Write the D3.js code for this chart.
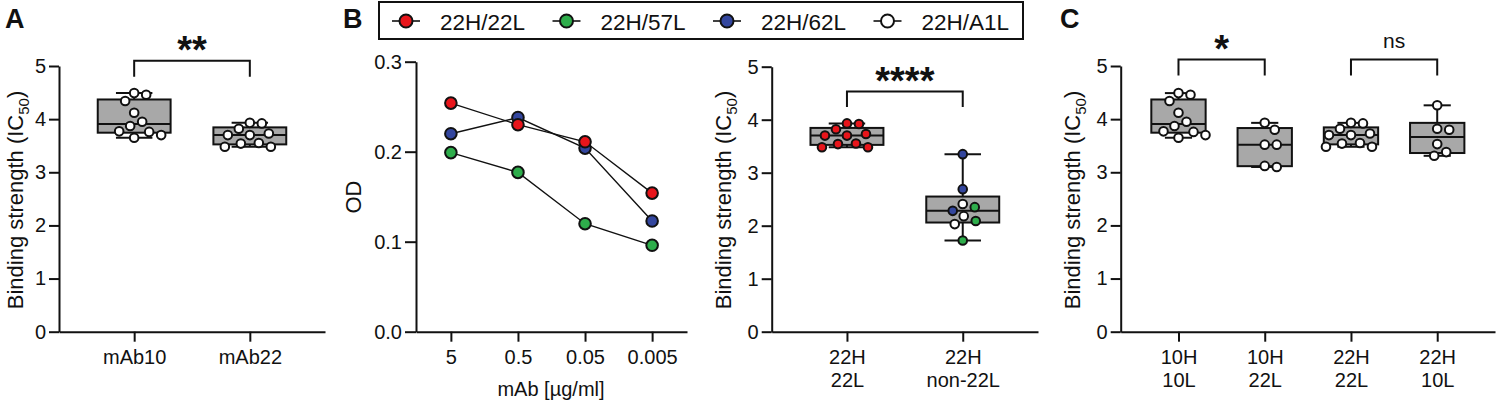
<!DOCTYPE html>
<html>
<head>
<meta charset="utf-8">
<script src="https://cdn.jsdelivr.net/npm/d3@7"></script>
<style>
    body { margin: 0; background: #fff; }
    svg { font-family: Arial, "Liberation Sans", sans-serif; }
    .axis path, .axis line { stroke: #111; stroke-width: 2; }
    .axis text { font-size: 20px; fill: #111; }
</style>
</head>
<body>
<svg id="fig" width="1497" height="407"></svg>
<script>
// ---- data ----
const mAb10 = [4.49, 4.46, 4.34, 4.12, 3.95, 3.87, 3.77, 3.76, 3.70, 3.65]
const mAb22 = [3.93, 3.92, 3.82, 3.73, 3.70, 3.70, 3.55, 3.54, 3.48, 3.48]
const non22L = [3.35, 2.69, 2.41, 2.35, 2.28, 2.18, 2.09, 2.03, 1.72]
const non22LPair = ["62L", "62L", "A1L", "57L", "62L", "A1L", "57L", "A1L", "57L"]
const h10l22 = [3.93, 3.80, 3.52, 3.52, 3.12, 3.10]
const h22l10 = [4.26, 3.82, 3.80, 3.53, 3.38, 3.31]

const concentrations = ["5", "0.5", "0.05", "0.005"]
const od22L = [0.254, 0.230, 0.211, 0.154]
const od57L = [0.199, 0.177, 0.120, 0.096]
const od62L = [0.220, 0.238, 0.204, 0.123]

const legendPairs = ["22H/22L", "22H/57L", "22H/62L", "22H/A1L"]
const pairColor = {"22L": "#e8151b", "57L": "#2ead4b", "62L": "#33469e", "A1L": "#ffffff"}

const svg = d3.select("#fig")

// GraphPad style quartiles, position p*(n+1)
function quart(vals, p) {
    let s = vals.slice().sort(d3.ascending)
    let pos = p * (s.length + 1) - 1
    let lo = Math.max(0, Math.floor(pos)), hi = Math.min(s.length - 1, Math.ceil(pos))
    return s[lo] + (s[hi] - s[lo]) * (pos - lo)
}

// simple beeswarm so the dots don't overlap
function swarm(vals, y, d) {
    let placed = []
    return vals.map(v => {
        let py = y(v), off = 0
        for (let k = 0; k < 400; k++) {
            let c = (k % 2 ? 1 : -1) * Math.ceil(k / 2)
            if (placed.every(p => (p.x - c) ** 2 + (p.y - py) ** 2 >= d * d)) { off = c; break }
        }
        placed.push({x: off, y: py})
        return off
    })
}

function yTitle(g, cx, cy, txt, sub) {
    let t = g.append("text")
        .attr("transform", `translate(${cx},${cy}) rotate(-90)`)
        .attr("text-anchor", "middle")
        .attr("dy", "0.35em")
        .style("font-size", "22px")
        .attr("fill", "#111")
    t.append("tspan").text(txt)
    if (sub) {
        t.append("tspan").text(sub).attr("dy", 6).style("font-size", "15px")
        t.append("tspan").text(")").attr("dy", -6)
    }
}

function panelLabel(x, txt) {
    svg.append("text").attr("x", x).attr("y", 28)
        .style("font-size", "27px").style("font-weight", "bold").attr("fill", "#111")
        .text(txt)
}

// box panel
function boxPanel(cfg) {
    let g = svg.append("g")
    let y = d3.scaleLinear().domain([0, 5]).range([331.7, cfg.yTop])
    let x = d3.scalePoint().domain(cfg.groups.map(d => d.name)).range([cfg.x0, cfg.x1]).padding(cfg.pad)
    let bw = x.step() * 0.63

    g.append("g").attr("class", "axis")
        .attr("transform", `translate(${cfg.x0},0)`)
        .call(d3.axisLeft(y).tickValues([0, 1, 2, 3, 4, 5]).tickFormat(d3.format("d"))
            .tickSize(10).tickSizeOuter(0).tickPadding(3))

    let xa = g.append("g").attr("class", "axis")
        .attr("transform", `translate(0,${y(0)})`)
        .call(d3.axisBottom(x).tickSize(10).tickSizeOuter(0).tickPadding(8).tickFormat(""))
    xa.selectAll(".tick text").attr("dy", null).each(function(d) {
        let t = d3.select(this)
        d.split("\n").forEach((l, i) => t.append("tspan").attr("x", 0).attr("dy", i ? "1.17em" : "0.71em").text(l))
    })

    cfg.groups.forEach(grp => {
        let cx = x(grp.name), v = grp.values
        let q1 = quart(v, 0.25), med = quart(v, 0.5), q3 = quart(v, 0.75)
        let lo = d3.min(v), hi = d3.max(v)
        let gg = g.append("g")
        gg.append("line").attr("x1", cx).attr("x2", cx).attr("y1", y(hi)).attr("y2", y(lo))
            .attr("stroke", "#111").attr("stroke-width", 2)
        ;[lo, hi].forEach(w => gg.append("line")
            .attr("x1", cx - bw / 4).attr("x2", cx + bw / 4).attr("y1", y(w)).attr("y2", y(w))
            .attr("stroke", "#111").attr("stroke-width", 2))
        gg.append("rect").attr("x", cx - bw / 2).attr("width", bw)
            .attr("y", y(q3)).attr("height", y(q1) - y(q3))
            .attr("fill", "#a8a8a8").attr("stroke", "#111").attr("stroke-width", 2)
        gg.append("line").attr("x1", cx - bw / 2).attr("x2", cx + bw / 2).attr("y1", y(med)).attr("y2", y(med))
            .attr("stroke", "#111").attr("stroke-width", 2)

        let offs = swarm(v, y, 12)
        gg.selectAll("circle").data(v).join("circle")
            .attr("cx", (d, i) => cx + offs[i])
            .attr("cy", d => y(d))
            .attr("r", 4.3)
            .attr("fill", (d, i) => grp.colors ? grp.colors[i] : "#fff")
            .attr("stroke", "#111").attr("stroke-width", 2)
    })

    cfg.brackets.forEach(b => {
        let xa1 = x(b.a), xb1 = x(b.b), top = y(b.top), bot = y(b.bot)
        g.append("path")
            .attr("d", `M${xa1},${bot}V${top}H${xb1}V${bot}`)
            .attr("fill", "none").attr("stroke", "#111").attr("stroke-width", 2)
        let star = b.label.includes("*")
        g.append("text").attr("x", (xa1 + xb1) / 2)
            .attr("y", star ? top + 2 : top - 12)
            .attr("text-anchor", "middle")
            .style("font-size", star ? "38px" : "21px")
            .style("font-weight", star ? "bold" : "normal")
            .attr("fill", "#111")
            .text(b.label)
    })

    yTitle(g, cfg.titleX, 200, "Binding strength (IC", "50")
}

// ---- panel A ----
panelLabel(5, "A")
boxPanel({
    x0: 59, x1: 325, pad: 0.65, yTop: 66, titleX: 15,
    groups: [{name: "mAb10", values: mAb10}, {name: "mAb22", values: mAb22}],
    brackets: [{a: "mAb10", b: "mAb22", top: 5.1, bot: 4.8, label: "**"}]
})

// ---- panel B, line chart ----
panelLabel(343, "B")
{
    let g = svg.append("g")
    let y = d3.scaleLinear().domain([0, 0.3]).range([331.7, 61.7])
    let x = d3.scalePoint().domain(concentrations).range([416, 687]).padding(0.52)

    g.append("g").attr("class", "axis")
        .attr("transform", "translate(416,0)")
        .call(d3.axisLeft(y).tickValues([0, 0.1, 0.2, 0.3]).tickFormat(d3.format(".1f"))
            .tickSize(11).tickSizeOuter(0).tickPadding(3))
    g.append("g").attr("class", "axis")
        .attr("transform", `translate(0,${y(0)})`)
        .call(d3.axisBottom(x).tickSize(10).tickSizeOuter(0).tickPadding(8))

    let series = [
        {pair: "57L", vals: od57L},
        {pair: "62L", vals: od62L},
        {pair: "22L", vals: od22L}
    ]
    let line = d3.line().x((d, i) => x(concentrations[i])).y(d => y(d))
    series.forEach(s => {
        g.append("path").attr("d", line(s.vals))
            .attr("fill", "none").attr("stroke", "#111").attr("stroke-width", 1.4)
    })
    series.forEach(s => {
        g.selectAll(null).data(s.vals).join("circle")
            .attr("cx", (d, i) => x(concentrations[i]))
            .attr("cy", d => y(d))
            .attr("r", 5.8)
            .attr("fill", pairColor[s.pair])
            .attr("stroke", "#111").attr("stroke-width", 2)
    })

    yTitle(g, 353, 197, "OD")
    g.append("text").attr("x", 551).attr("y", 396).attr("text-anchor", "middle")
        .style("font-size", "20px").attr("fill", "#111").text("mAb [µg/ml]")
}

// ---- legend ----
{
    let lg = svg.append("g")
    lg.append("rect").attr("x", 379).attr("y", 2).attr("width", 644).attr("height", 37)
        .attr("fill", "#fff").attr("stroke", "#111").attr("stroke-width", 2)
    legendPairs.forEach((name, i) => {
        let cx = 406 + i * 160.5
        lg.append("line").attr("x1", cx - 14).attr("x2", cx + 14).attr("y1", 21).attr("y2", 21)
            .attr("stroke", "#111").attr("stroke-width", 1.6)
        lg.append("circle").attr("cx", cx).attr("cy", 21).attr("r", 6.5)
            .attr("fill", pairColor[name.split("/")[1]]).attr("stroke", "#111").attr("stroke-width", 2)
        lg.append("text").attr("x", cx + 34).attr("y", 29.5)
            .style("font-size", "22.5px").attr("fill", "#111").text(name)
    })
}

// ---- panel B, box plot ----
boxPanel({
    x0: 771.7, x1: 1038, pad: 0.65, yTop: 66.7, titleX: 723,
    groups: [
        {name: "22H\n22L", values: mAb22, colors: mAb22.map(() => pairColor["22L"])},
        {name: "22H\nnon-22L", values: non22L, colors: non22LPair.map(p => pairColor[p])}
    ],
    brackets: [{a: "22H\n22L", b: "22H\nnon-22L", top: 4.53, bot: 4.24, label: "****"}]
})

// ---- panel C ----
panelLabel(1060, "C")
boxPanel({
    x0: 1120.7, x1: 1495, pad: 0.67, yTop: 66, titleX: 1072,
    groups: [
        {name: "10H\n10L", values: mAb10},
        {name: "10H\n22L", values: h10l22},
        {name: "22H\n22L", values: mAb22},
        {name: "22H\n10L", values: h22l10}
    ],
    brackets: [
        {a: "10H\n10L", b: "10H\n22L", top: 5.12, bot: 4.82, label: "*"},
        {a: "22H\n22L", b: "22H\n10L", top: 5.12, bot: 4.82, label: "ns"}
    ]
})
</script>
</body>
</html>
